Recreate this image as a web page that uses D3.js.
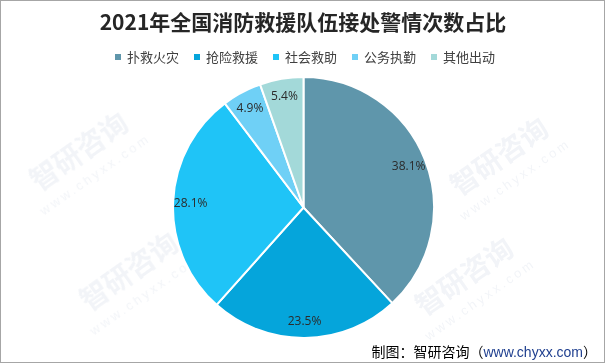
<!DOCTYPE html>
<html>
<head>
<meta charset="utf-8">
<script src="https://cdn.jsdelivr.net/npm/d3@7/dist/d3.min.js"></script>
<style>
  html, body { margin: 0; padding: 0; background: #fff; }
  svg { display: block; }
</style>
</head>
<body>
<div id="chart"></div>
<script>
const width = 606;
const height = 364;

const title = "2021年全国消防救援队伍接处警情次数占比";
const categories = ["扑救火灾", "抢险救援", "社会救助", "公务执勤", "其他出动"];
const shares = [38.1, 23.5, 28.1, 4.9, 5.4];
const colors = ["#5f96ab", "#05a5db", "#1fc4f7", "#6fd0f6", "#a3d9d9"];

const cx = 303.5, cy = 207.5;
const radius = 130.5;
const labelRadius = 113;

const svg = d3.select("#chart").append("svg")
  .attr("width", width)
  .attr("height", height)
  .attr("viewBox", [0, 0, width, height]);

// faint watermark, kept inside the frame
const marks = [[85, 160], [290, 215], [505, 165], [135, 280], [470, 285]];
const wm = svg.append("g").attr("opacity", 0.06);
marks.forEach(([x, y]) => {
  const g = wm.append("g").attr("transform", `translate(${x},${y}) rotate(-35)`);
  g.append("text")
    .attr("text-anchor", "middle")
    .style("font-family", "Noto Sans CJK SC, sans-serif")
    .style("font-size", "28px")
    .style("font-weight", "bold")
    .attr("fill", "#2a4f8a")
    .text("智研咨询");
  g.append("text")
    .attr("y", 22)
    .attr("text-anchor", "middle")
    .style("font-family", "Arial, sans-serif")
    .style("font-size", "13px")
    .style("letter-spacing", "3px")
    .attr("fill", "#2a4f8a")
    .text("www.chyxx.com");
});

// border
svg.append("rect")
  .attr("x", 0.5).attr("y", 0.5)
  .attr("width", width - 2).attr("height", height - 2)
  .attr("fill", "none")
  .attr("stroke", "#a6a6a6");

svg.append("text")
  .attr("x", width / 2)
  .attr("y", 30)
  .attr("text-anchor", "middle")
  .style("font-family", "Noto Sans CJK SC, sans-serif")
  .style("font-size", "21px")
  .style("font-weight", "bold")
  .attr("fill", "#262626")
  .text(title);

// legend
const legend = svg.append("g").attr("transform", "translate(118,57)");
const item = legend.selectAll(".legend")
  .data(categories)
  .join("g")
  .attr("class", "legend")
  .attr("transform", (d, i) => `translate(${i * 79},0)`);

item.append("rect")
  .attr("x", -3).attr("y", -3)
  .attr("width", 6).attr("height", 6)
  .attr("fill", (d, i) => colors[i]);

item.append("text")
  .attr("x", 9)
  .attr("y", 0)
  .attr("dy", "0.36em")
  .style("font-family", "Noto Sans CJK SC, sans-serif")
  .style("font-size", "13px")
  .attr("fill", "#404040")
  .text(d => d);

// pie
const pieGenerator = d3.pie()
  .sort(null)
  .value(d => d);

const arcGenerator = d3.arc()
  .innerRadius(0)
  .outerRadius(radius);

const labelArc = d3.arc()
  .innerRadius(labelRadius)
  .outerRadius(labelRadius);

const arcs = pieGenerator(shares);

const pieGroup = svg.append("g")
  .attr("transform", `translate(${cx},${cy})`);

pieGroup.selectAll("path")
  .data(arcs)
  .join("path")
  .attr("d", arcGenerator)
  .attr("fill", (d, i) => colors[i])
  .attr("stroke", "#fff")
  .attr("stroke-width", 2);

pieGroup.selectAll(".label")
  .data(arcs)
  .join("text")
  .attr("class", "label")
  .attr("transform", d => `translate(${labelArc.centroid(d)})`)
  .attr("text-anchor", "middle")
  .attr("dy", "0.35em")
  .style("font-family", "Open Sans, sans-serif")
  .style("font-size", "12px")
  .attr("fill", "#2b2b2b")
  .text(d => d.data.toFixed(1) + "%");

// source
const src = svg.append("text")
  .attr("x", 597)
  .attr("y", 357)
  .attr("text-anchor", "end")
  .style("font-family", "Noto Sans CJK SC, sans-serif")
  .style("font-size", "14px")
  .attr("fill", "#000");
src.append("tspan").text("制图：智研咨询（");
src.append("tspan").attr("fill", "#1f3f8f").style("font-family", "Arial, sans-serif").text("www.chyxx.com");
src.append("tspan").text("）");
</script>
</body>
</html>
